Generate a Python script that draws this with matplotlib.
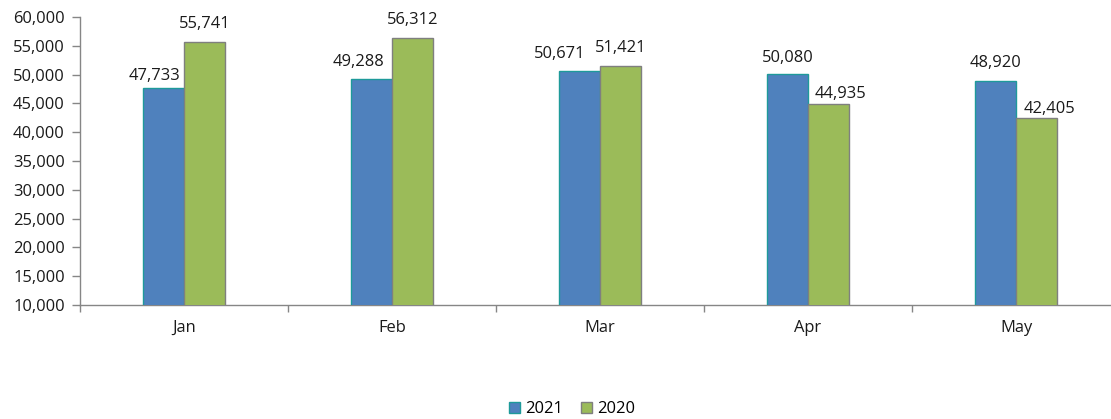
import matplotlib
matplotlib.use("Agg")
import matplotlib.pyplot as plt
import numpy as np
from matplotlib.ticker import FuncFormatter, FixedLocator
from matplotlib.patches import Patch

months = ["Jan", "Feb", "Mar", "Apr", "May"]
series_2021 = [47733, 49288, 50671, 50080, 48920]
series_2020 = [55741, 56312, 51421, 44935, 42405]
series_names = ["2021", "2020"]

# label offsets (pixels) as placed in the original chart
off_2021 = [(-9, 8), (-13, 13), (-20, 13), (0, 12), (0, 14)]
off_2020 = [(0, 14), (0, 14), (0, 14), (12, 6), (13, 5)]

plt.rcParams['font.family'] = ['Open Sans', 'DejaVu Sans']

fig = plt.figure(figsize=(11.11, 4.19), dpi=100)
W, H = 1111, 419
ax = fig.add_axes([80 / W, 1 - 305 / H, 1040 / W, 288 / H])

x = np.arange(len(months))
bw = 0.198
blue = "#4F81BD"
green = "#9BBB59"
b1 = ax.bar(x - bw / 2, series_2021, bw, color=blue, edgecolor="#1E9A9A", linewidth=1.0, zorder=3)
b2 = ax.bar(x + bw / 2, series_2020, bw, color=green, edgecolor="#7F7F7F", linewidth=1.0, zorder=3)

px = 72 / 100
fs = 11.9
for bars, vals, offs in [(b1, series_2021, off_2021), (b2, series_2020, off_2020)]:
    for rect, v, (dx, dy) in zip(bars, vals, offs):
        ax.annotate(f"{v:,}", (rect.get_x() + rect.get_width() / 2, v), xytext=(dx * px, dy * px),
                    textcoords="offset points", ha="center", va="baseline", fontsize=fs,
                    color="#1a1a1a")

ax.set_xlim(-0.5, len(months) - 0.5)
ax.set_ylim(10000, 60000)
ax.yaxis.set_major_locator(FixedLocator(np.arange(10000, 60001, 5000)))
ax.yaxis.set_major_formatter(FuncFormatter(lambda v, p: f"{int(v):,}"))
ax.set_xticks(x)
ax.set_xticklabels(months)
ax.xaxis.set_minor_locator(FixedLocator(np.arange(-0.5, len(months), 1.0)))
ax.tick_params(axis="x", which="major", length=0, pad=11, labelsize=fs, labelcolor="#1a1a1a")
ax.tick_params(axis="x", which="minor", length=5, color="#868686", width=1)
ax.tick_params(axis="y", length=6, color="#868686", width=1, labelsize=fs, labelcolor="#1a1a1a", pad=5)

for s in ["top", "right"]:
    ax.spines[s].set_visible(False)
for s in ["left", "bottom"]:
    ax.spines[s].set_color("#868686")
    ax.spines[s].set_linewidth(1)

handles = [Patch(facecolor=blue, edgecolor="#1E9A9A", label=series_names[0]),
           Patch(facecolor=green, edgecolor="#7F7F7F", label=series_names[1])]
fig.legend(handles=handles, loc="center", bbox_to_anchor=(572 / W, 1 - 409 / H), ncol=2,
           frameon=False, fontsize=fs, handlelength=0.65, handleheight=0.65,
           handletextpad=0.3, columnspacing=1.1)

fig.savefig("out.png", dpi=100)
